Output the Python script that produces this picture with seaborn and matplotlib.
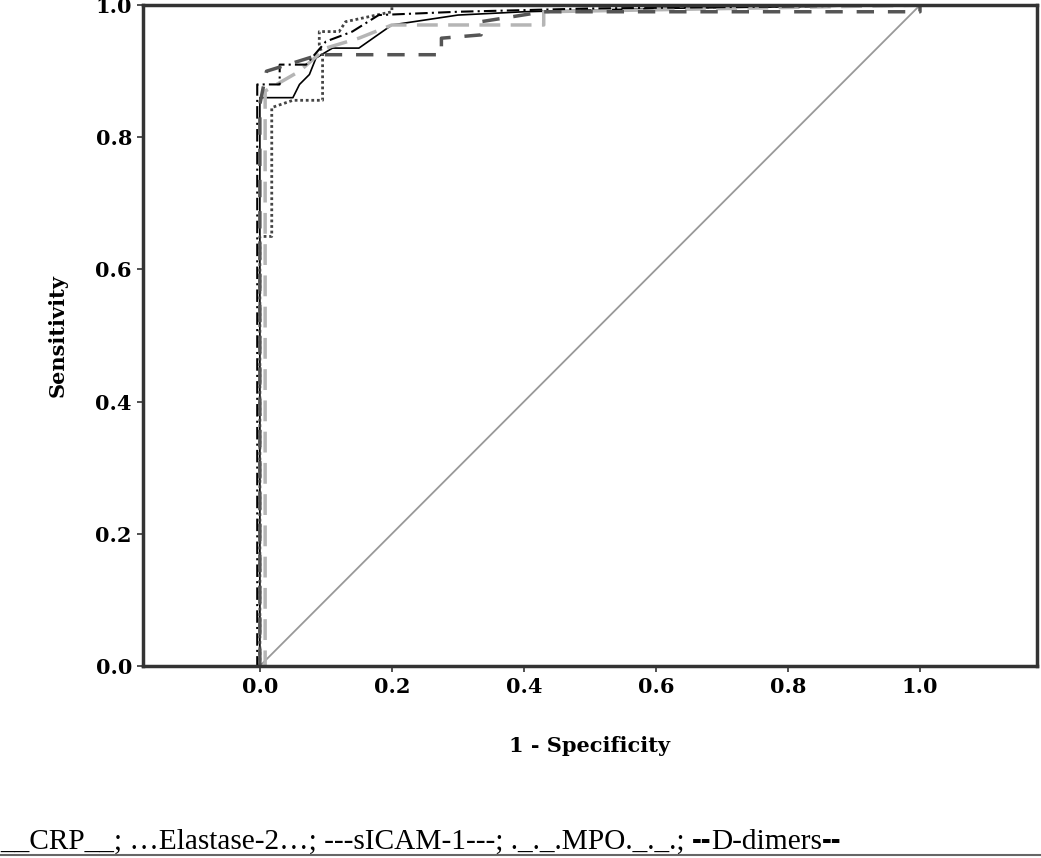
import numpy as np
import pandas as pd
import seaborn as sns
import matplotlib
matplotlib.use('Agg')
import matplotlib.pyplot as plt

# =============================================================================
# ROC curve points (1 - specificity, sensitivity)
# =============================================================================
crp_fpr = [0, 0, 0.05, 0.06, 0.075, 0.085, 0.11, 0.15, 0.2, 0.3, 0.4, 0.6, 1]
crp_tpr = [0, 0.86, 0.86, 0.88, 0.895, 0.92, 0.935, 0.935, 0.97, 0.985, 0.99, 0.995, 1]

ela_fpr = [0, 0, 0.018, 0.018, 0.05, 0.095, 0.095, 0.09, 0.09, 0.12, 0.13, 0.2, 0.2, 1]
ela_tpr = [0, 0.65, 0.65, 0.845, 0.856, 0.856, 0.924, 0.94, 0.96, 0.96, 0.975, 0.99, 1.0, 1]

icam_fpr = [0, 0.008, 0.008, 0.06, 0.1, 0.15, 0.2, 0.43, 0.43, 1]
icam_tpr = [0, 0, 0.87, 0.9, 0.935, 0.95, 0.97, 0.97, 0.99, 1]

mpo_fpr = [0, -0.004, -0.004, 0.03, 0.03, 0.07, 0.1, 0.14, 0.18, 0.3, 0.5, 1]
mpo_tpr = [0, 0, 0.88, 0.88, 0.91, 0.91, 0.945, 0.96, 0.985, 0.99, 0.995, 1]

dd_fpr = [0, 0, 0.01, 0.09, 0.275, 0.275, 0.335, 0.335, 0.43, 1, 1]
dd_tpr = [0, 0.85, 0.9, 0.925, 0.925, 0.95, 0.955, 0.975, 0.99, 0.99, 1]

ref = [0, 1]

ticks = [0, 0.2, 0.4, 0.6, 0.8, 1.0]
tick_labels = ['0.0', '0.2', '0.4', '0.6', '0.8', '1.0']

# legend line under the chart, split so the D-dimers dashes can be bold
legend_parts = ['__CRP__; \u2026Elastase-2\u2026; ---sICAM-1---; ._._.MPO._._.; ',
                '--', 'D-dimers', '--']

# =============================================================================
# Plot
# =============================================================================
sns.set_style('white')
plt.rcParams['font.family'] = ['Liberation Serif', 'DejaVu Serif']
plt.rcParams['text.color'] = 'black'

fig = plt.figure(figsize=(10.41, 8.58), dpi=100)
ax = fig.add_axes([0.1374, 0.2238, 0.8586, 0.7702])

sns.lineplot(x=ref, y=ref, ax=ax, color='#999999', lw=1.3)

curves = [
    (crp_fpr, crp_tpr, dict(color='black', lw=1.2, ls='-')),
    (ela_fpr, ela_tpr, dict(color='#444444', lw=2.0, ls=(0, (1, 1)))),
    (icam_fpr, icam_tpr, dict(color='#b5b5b5', lw=2.5, ls=(0, (6, 3)))),
    (mpo_fpr, mpo_tpr, dict(color='black', lw=1.5, ls=(0, (6, 2, 1, 2)))),
    (dd_fpr, dd_tpr, dict(color='#555555', lw=2.5, ls=(0, (5, 4)))),
]
for fx, ty, st in curves:
    d = pd.DataFrame({'fpr': fx, 'tpr': ty})
    sns.lineplot(data=d, x='fpr', y='tpr', ax=ax, sort=False, estimator=None, **st)

ax.set_xlim(-0.177, 1.177)
ax.set_ylim(0, 1)
ax.set_xticks(ticks)
ax.set_yticks(ticks)
ax.set_xticklabels(tick_labels, fontweight='bold', fontsize=15, family='DejaVu Serif', color='black')
ax.set_yticklabels(tick_labels, fontweight='bold', fontsize=15, family='DejaVu Serif', color='black')
ax.tick_params(bottom=True, left=True, length=4, width=1.2, color='#333333', pad=4, direction='out')
for s in ax.spines.values():
    s.set_color('#333333')
    s.set_linewidth(2.5)

ax.set_xlabel('1 - Specificity', fontweight='bold', fontsize=15, family='DejaVu Serif', va='center', color='black')
ax.set_ylabel('Sensitivity', fontweight='bold', fontsize=15, family='DejaVu Serif', va='center', color='black')
ax.xaxis.set_label_coords(0.5, -0.121)
ax.yaxis.set_label_coords(-0.095, 0.5)

# bottom legend line
fs = 21.2
t = fig.text(0.0, 0.004, legend_parts[0], fontsize=fs, ha='left', va='bottom')
t = ax.annotate(legend_parts[1], xy=(1, 0), xycoords=t, fontsize=fs, fontweight='bold',
                family='Liberation Sans', ha='left', va='bottom', annotation_clip=False)
t = ax.annotate(legend_parts[2], xy=(1, 0), xycoords=t, fontsize=fs,
                ha='left', va='bottom', annotation_clip=False)
t = ax.annotate(legend_parts[3], xy=(1, 0), xycoords=t, fontsize=fs, fontweight='bold',
                family='Liberation Sans', ha='left', va='bottom', annotation_clip=False)
fig.add_artist(plt.Line2D([0, 1], [0.003, 0.003], color='#666666', lw=1.5))

fig.savefig('out.png', dpi=100)
